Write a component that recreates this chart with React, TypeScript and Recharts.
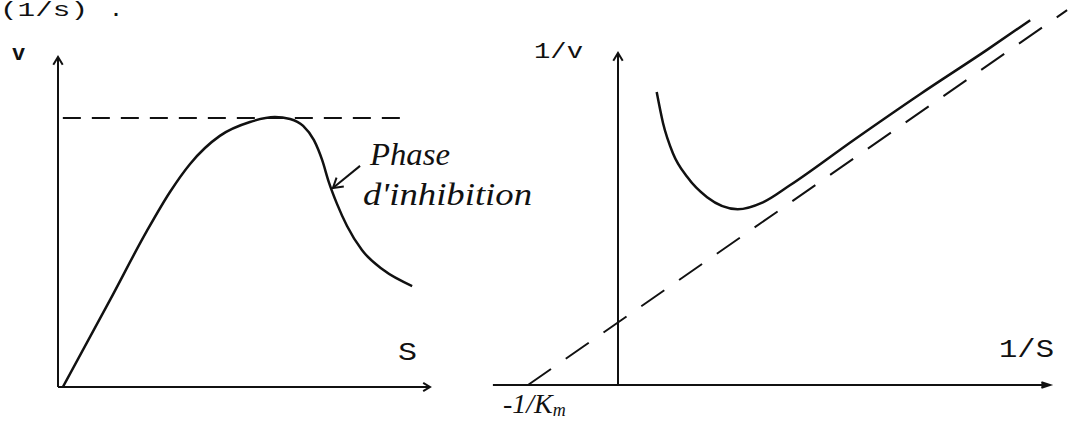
import { LineChart, Line, XAxis, YAxis, ReferenceLine } from 'recharts';

const INK = '#111';

// left panel: v against S, with substrate inhibition
const S_VALUES = [0.13, 1.4, 2.39, 3.01, 3.55, 4.35, 5.16, 5.83, 6.24, 6.59, 6.88, 7.1, 7.28, 7.5, 7.77, 8.17, 8.74, 9.52];
const V_VALUES = [0, 2.64, 4.73, 5.91, 6.76, 7.61, 8.03, 8.18, 8.12, 7.91, 7.48, 6.88, 6.21, 5.55, 4.88, 4.15, 3.55, 3.06];
const VMAX = 8.15;
const VMAX_SPAN = [0.13, 9.33];
const INHIBITION_ARROW = [
  { x: 8.12, y: 6.7 },
  { x: 7.39, y: 6.03 },
];

// right panel: 1/v against 1/S (Lineweaver-Burk)
const INV_S = [0.43, 0.5, 0.61, 0.77, 0.99, 1.33, 1.61, 1.91, 2.62, 3.36, 4.1, 4.58];
const INV_V = [4.65, 4.16, 3.68, 3.3, 2.98, 2.79, 2.9, 3.17, 3.89, 4.62, 5.32, 5.79];
const ASYMPTOTE_X = [-1, 4.99];
const ASYMPTOTE_Y = [0, 5.95];

const leftCurve = S_VALUES.map((x, i) => ({ x, y: V_VALUES[i] }));
const rightCurve = INV_S.map((x, i) => ({ x, y: INV_V[i] }));
const asymptote = ASYMPTOTE_X.map((x, i) => ({ x, y: ASYMPTOTE_Y[i] }));

// line with an arrow head at its end point
const arrowShape = (filled: boolean, size = 10) => (props: any) => {
  const { x1, y1, x2, y2 } = props;
  const a = Math.atan2(y2 - y1, x2 - x1);
  const spread = filled ? 0.32 : 0.55;
  const p1 = [x2 - size * Math.cos(a - spread), y2 - size * Math.sin(a - spread)];
  const p2 = [x2 - size * Math.cos(a + spread), y2 - size * Math.sin(a + spread)];
  return (
    <g>
      <line x1={x1} y1={y1} x2={x2} y2={y2} stroke={INK} strokeWidth={2} />
      <polyline
        points={`${p1[0]},${p1[1]} ${x2},${y2} ${p2[0]},${p2[1]}`}
        fill={filled ? INK : 'none'}
        stroke={INK}
        strokeWidth={2}
      />
    </g>
  );
};

const mono = '"Liberation Mono", "DejaVu Sans Mono", monospace';
const hand = '"Liberation Serif", "DejaVu Serif", serif';

function Labels() {
  return (
    <svg width={1077} height={422} style={{ position: 'absolute', left: 0, top: 0, pointerEvents: 'none' }}>
      <g fill={INK} fontFamily={mono}>
        <text x={0} y={16} fontSize={20} textLength={88} lengthAdjust="spacingAndGlyphs">(1/s)</text>
        <text x={110} y={16} fontSize={20} fontWeight="bold">.</text>
        <text x={12} y={60} fontSize={22} fontWeight="bold">v</text>
        <text x={398} y={360} fontSize={26} textLength={19} lengthAdjust="spacingAndGlyphs">S</text>
        <text x={534} y={58} fontSize={22} textLength={49} lengthAdjust="spacingAndGlyphs">1/v</text>
        <text x={999} y={357} fontSize={26} textLength={55} lengthAdjust="spacingAndGlyphs">1/S</text>
      </g>
      <g fill={INK} fontFamily={hand} fontStyle="italic">
        <text x={370} y={165} fontSize={32} textLength={80} lengthAdjust="spacingAndGlyphs">Phase</text>
        <text x={363} y={205} fontSize={32} textLength={169} lengthAdjust="spacingAndGlyphs">d'inhibition</text>
        <text x={503} y={413} fontSize={28}>
          -1/K<tspan fontSize={18} dy={3}>m</tspan>
        </text>
      </g>
    </svg>
  );
}

function DirectPlot() {
  return (
    <LineChart width={480} height={422} margin={{ top: 57, right: 50, bottom: 35, left: 58 }}>
      <XAxis type="number" dataKey="x" domain={[0, 10]} hide allowDataOverflow />
      <YAxis type="number" dataKey="y" domain={[0, 10]} hide allowDataOverflow />
      <ReferenceLine segment={[{ x: 0, y: 0 }, { x: 10, y: 0 }]} shape={arrowShape(false, 8)} />
      <ReferenceLine segment={[{ x: 0, y: 0 }, { x: 0, y: 10 }]} shape={arrowShape(false, 9)} />
      <ReferenceLine
        segment={[{ x: VMAX_SPAN[0], y: VMAX }, { x: VMAX_SPAN[1], y: VMAX }]}
        stroke={INK}
        strokeWidth={2}
        strokeDasharray="18 11"
      />
      <ReferenceLine segment={INHIBITION_ARROW} shape={arrowShape(false, 11)} />
      <Line data={leftCurve} dataKey="y" type="monotone" stroke={INK} strokeWidth={2.5} dot={false} isAnimationActive={false} />
    </LineChart>
  );
}

function ReciprocalPlot() {
  return (
    <LineChart width={597} height={422} margin={{ top: 7, right: 0, bottom: 5.5, left: 3 }}>
      <XAxis type="number" dataKey="x" domain={[-1.5, 5.1]} hide allowDataOverflow />
      <YAxis type="number" dataKey="y" domain={[-0.5, 6]} hide allowDataOverflow />
      <ReferenceLine segment={[{ x: -1.39, y: 0 }, { x: 4.8, y: 0 }]} shape={arrowShape(true, 9)} />
      <ReferenceLine segment={[{ x: 0, y: 0 }, { x: 0, y: 5.27 }]} shape={arrowShape(false, 9)} />
      <Line
        data={asymptote}
        dataKey="y"
        type="linear"
        stroke={INK}
        strokeWidth={2}
        strokeDasharray="28 18"
        dot={false}
        isAnimationActive={false}
      />
      <Line data={rightCurve} dataKey="y" type="monotone" stroke={INK} strokeWidth={2.5} dot={false} isAnimationActive={false} />
    </LineChart>
  );
}

export default function App() {
  return (
    <div style={{ position: 'fixed', left: 0, top: 0, width: 1077, height: 422, background: '#fff' }}>
      <div style={{ position: 'absolute', left: 0, top: 0 }}>
        <DirectPlot />
      </div>
      <div style={{ position: 'absolute', left: 480, top: 0 }}>
        <ReciprocalPlot />
      </div>
      <Labels />
    </div>
  );
}
